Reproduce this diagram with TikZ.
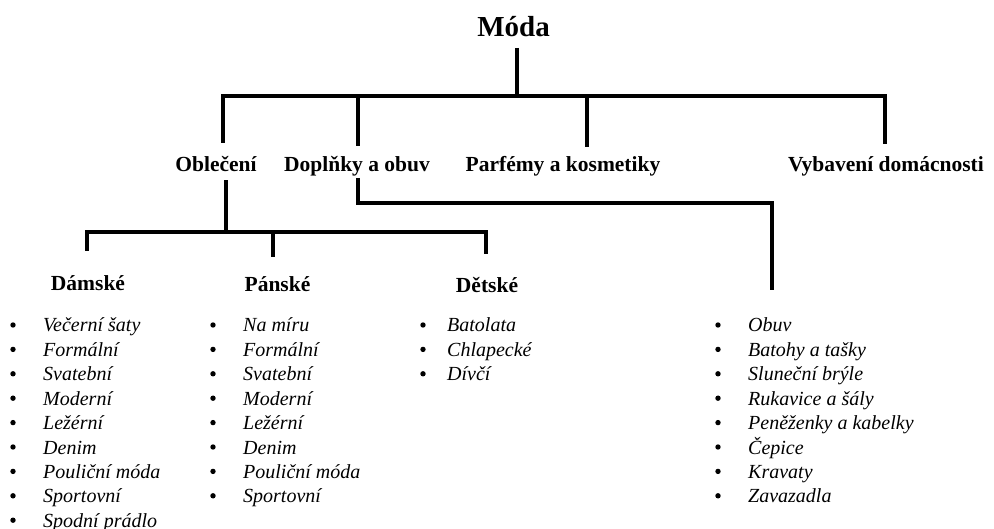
\documentclass[tikz,border=0pt]{standalone}
\usepackage{fontspec}
\setmainfont{Liberation Serif}
\tikzset{
  tree/.style={line width=4.5pt, line join=miter},
  title/.style={font=\fontsize{29}{32}\selectfont\bfseries, inner sep=0pt, anchor=base},
  head/.style={font=\fontsize{21.5}{25}\selectfont\bfseries, inner sep=0pt, anchor=base},
  item/.style={font=\fontsize{20}{24}\selectfont\itshape, inner sep=0pt, anchor=base west}
}
\begin{document}
\begin{tikzpicture}[x=1pt, y=-1pt]
	\useasboundingbox (0,0) rectangle (994,529);
	
	\node[title] (moda) at (513.5,37) {Móda};
	
	\node[head] (obl) at (216,172) {Oblečení};
	\node[head] (dop) at (357,172) {Doplňky a obuv};
	\node[head] (par) at (563,172) {Parfémy a kosmetiky};
	\node[head] (vyb) at (886,172) {Vybavení domácnosti};
	
	\node[head] (dam) at (88,291) {Dámské};
	\node[head] (pan) at (277.5,292) {Pánské};
	\node[head] (det) at (487,293) {Dětské};
	
	% first level
	\coordinate (bar) at (517,96);
	\coordinate (oblTop) at (223,143);
	\coordinate (dopTop) at (358,146);
	\coordinate (parTop) at (587,147);
	\coordinate (vybTop) at (885,144);
	\draw[tree] (517,48) -- (bar);
	\draw[tree] (oblTop) -- (oblTop |- bar) -- (vybTop |- bar) -- (vybTop);
	\draw[tree] (dopTop) -- (dopTop |- bar);
	\draw[tree] (parTop) -- (parTop |- bar);
	
	% clothing
	\coordinate (bar2) at (226,232);
	\coordinate (damTop) at (87,251);
	\coordinate (panTop) at (273,257);
	\coordinate (detTop) at (486,254);
	\draw[tree] (obl.south -| bar2) ++(0,8) -- (bar2);
	\draw[tree] (damTop) -- (damTop |- bar2) -- (detTop |- bar2) -- (detTop);
	\draw[tree] (panTop) -- (panTop |- bar2);
	
	% accessories
	\coordinate (dopEnd) at (772,290);
	\draw[tree] (dop.south -| 358,0) ++(0,1) -- (358,203) -| (dopEnd);
	
	% lists
	\foreach \txt [count=\i] in {Večerní šaty, Formální, Svatební, Moderní, Ležérní, Denim, Pouliční móda, Sportovní, Spodní prádlo}{
		\fill (13,325+24.4*\i-24.4) circle (2.7);
		\node[item] (dam\i) at (43,332+24.4*\i-24.4) {\txt};
	}
	\foreach \txt [count=\i] in {Na míru, Formální, Svatební, Moderní, Ležérní, Denim, Pouliční móda, Sportovní}{
		\fill (213,325+24.4*\i-24.4) circle (2.7);
		\node[item] (pan\i) at (243,332+24.4*\i-24.4) {\txt};
	}
	\foreach \txt [count=\i] in {Batolata, Chlapecké, Dívčí}{
		\fill (423,325+24.4*\i-24.4) circle (2.7);
		\node[item] (det\i) at (447,332+24.4*\i-24.4) {\txt};
	}
	\foreach \txt [count=\i] in {Obuv, Batohy a tašky, Sluneční brýle, Rukavice a šály, Peněženky a kabelky, Čepice, Kravaty, Zavazadla}{
		\fill (718,325+24.4*\i-24.4) circle (2.7);
		\node[item] (dop\i) at (748,332+24.4*\i-24.4) {\txt};
	}
\end{tikzpicture}
\end{document}
